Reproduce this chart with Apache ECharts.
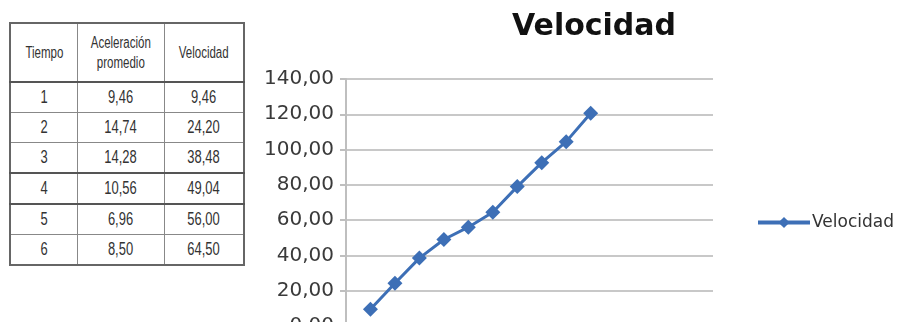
<!DOCTYPE html>
<html><head><meta charset="utf-8">
<script src="https://cdn.jsdelivr.net/npm/echarts@6/dist/echarts.min.js"></script>
<style>
html,body{margin:0;padding:0;background:#fff;}
#c{position:absolute;left:0;top:0;width:904px;height:322px;}
#tbl{position:absolute;left:9px;top:22px;border-collapse:collapse;font-family:'Liberation Sans',Arial,sans-serif;color:#333;background:#fff;border:2px solid #666;}
#tbl td{border:1px solid #888;text-align:center;font-size:18px;padding:0;height:29px;}
#tbl td span{display:inline-block;transform:scaleX(0.72);white-space:nowrap;}
#tbl tr.h td{height:57px;font-size:16px;line-height:20px;}
#tbl tr.thick td{border-bottom:2px solid #555;}
</style></head><body>
<div id="c"></div>
<table id="tbl"></table>
<script>
// table data
const tabHeaders = ['Tiempo', 'Aceleración<br>promedio', 'Velocidad'];
const tabTiempo = ['1','2','3','4','5','6'];
const tabAcel = ['9,46','14,74','14,28','10,56','6,96','8,50'];
const tabVel = ['9,46','24,20','38,48','49,04','56,00','64,50'];
// chart data
const tiempos = [1,2,3,4,5,6,7,8,9,10];
const velocidad = [9.46,24.20,38.48,49.04,56.00,64.50,79.0,92.6,104.5,120.6];
const yTicks = {min:0, max:140, interval:20};

const tbl = document.getElementById('tbl');
const colW = [66, 86, 78];
const s = t => '<span>'+t+'</span>';
let html = '<tr class="h thick">' + tabHeaders.map((h,i)=>'<td style="width:'+colW[i]+'px">'+s(h)+'</td>').join('') + '</tr>';
tabTiempo.forEach((t,i)=>{
  const cls = (i===2||i===3) ? ' class="thick"' : '';
  html += '<tr'+cls+'><td>'+s(t)+'</td><td>'+s(tabAcel[i])+'</td><td>'+s(tabVel[i])+'</td></tr>';
});
tbl.innerHTML = html;

const chart = echarts.init(document.getElementById('c'), null, {renderer:'canvas'});
chart.setOption({
  backgroundColor:'#fff',
  animation:false,
  title:{text:'Velocidad', left:589, top:7, textAlign:'center',
    textStyle:{fontFamily:'DejaVu Sans', fontWeight:'bold', fontSize:30, color:'#111'}},
  legend:{left:751, top:209, itemWidth:52, itemHeight:14, itemGap:4,
    lineStyle:{width:4},
    textStyle:{fontFamily:'DejaVu Sans', fontSize:17, color:'#333', padding:[0,0,0,-3]},
    data:['Velocidad']},
  grid:{left:346, top:79, right:191, height:247, outerBoundsMode:'none', containLabel:false},
  xAxis:{type:'value', min:0, max:15, show:true, axisLabel:{show:false}, axisTick:{show:false},
    splitLine:{show:false}, axisLine:{show:false}},
  yAxis:{type:'value', min:yTicks.min, max:yTicks.max, interval:yTicks.interval,
    axisLine:{show:true, lineStyle:{color:'#bfbfbf', width:2}},
    axisTick:{show:true, length:6, lineStyle:{color:'#bfbfbf', width:2}},
    splitLine:{lineStyle:{color:'#c8c8c8', width:2}},
    axisLabel:{fontFamily:'DejaVu Sans', fontSize:20, color:'#3a3a3a', margin:12,
      formatter:v=>v.toFixed(2).replace('.',',')}},
  series:[{name:'Velocidad', type:'line', data:tiempos.map((t,i)=>[t, velocidad[i]]),
    symbol:'diamond', symbolSize:15,
    lineStyle:{color:'#3d6fb6', width:3},
    itemStyle:{color:'#3d6fb6'}}]
});
</script>
</body></html>
